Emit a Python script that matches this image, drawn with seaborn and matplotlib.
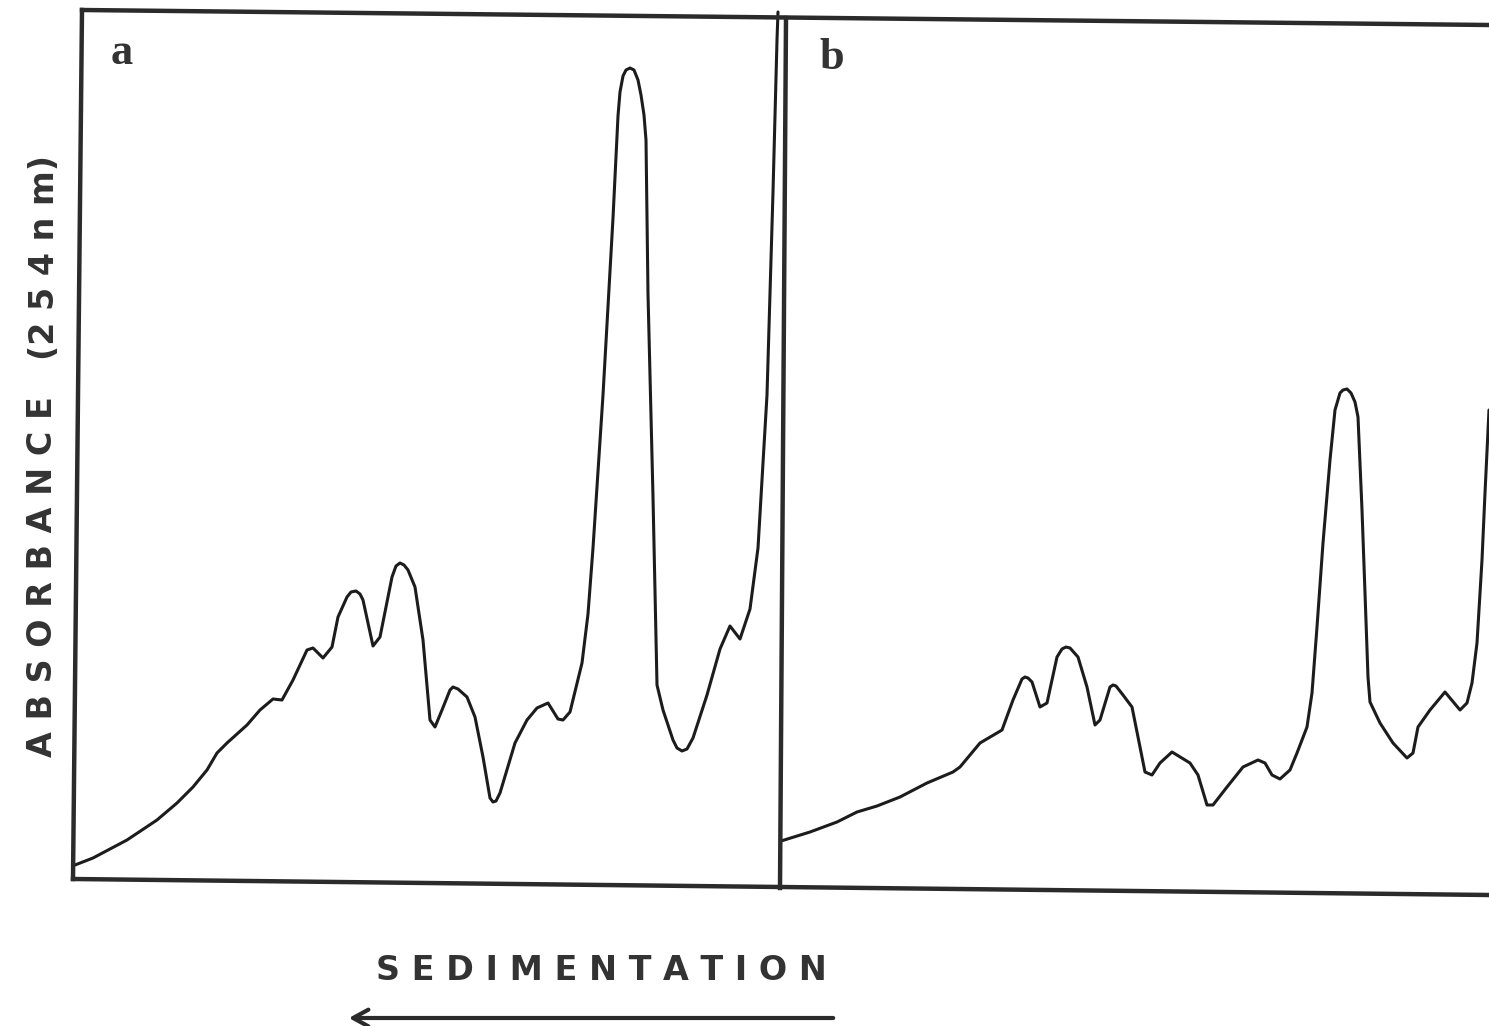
import numpy as np
import pandas as pd
import matplotlib
matplotlib.use("Agg")
import matplotlib.pyplot as plt
from matplotlib.lines import Line2D
from matplotlib.patches import FancyArrowPatch
import seaborn as sns

# Gradient trace, profile a: recorder position (chart units) vs A254 (chart units)
pos_a = [2, 20, 54, 84, 104, 120, 134, 144, 154, 174, 187, 200, 209, 220, 234, 240,
         250, 259, 265, 274, 278, 283, 287, 290, 300, 307, 319, 323, 327, 331, 335,
         342, 350, 357, 362, 369, 377, 380, 385, 394, 402, 410, 417, 420, 423, 427,
         442, 454, 464, 475, 485, 490, 497, 509, 515, 520, 530, 540, 545, 547, 550,
         553, 557, 561, 565, 568, 571, 573, 575, 580, 584, 590, 600, 604, 609, 614,
         620, 634, 647, 657, 667, 677, 685, 694, 700, 704, 705]
abs_a = [17, 24, 42, 62, 79, 95, 112, 129, 139, 157, 172, 183, 182, 202, 232, 234,
         224, 235, 265, 285, 290, 291, 288, 282, 236, 245, 305, 316, 319, 317, 312,
         295, 242, 162, 155, 172, 192, 195, 193, 185, 165, 125, 84, 80, 81, 89,
         139, 162, 174, 179, 163, 162, 170, 219, 268, 334, 487, 664, 766, 790, 806,
         812, 814, 812, 802, 787, 767, 742, 588, 385, 197, 172, 142, 134, 131, 133,
         144, 187, 233, 256, 243, 273, 334, 487, 690, 842, 870]

# Gradient trace, profile b
pos_b = [0, 29, 56, 76, 96, 119, 146, 172, 179, 199, 216, 221, 232, 241, 244, 247,
         251, 259, 266, 276, 281, 285, 289, 297, 306, 314, 319, 329, 332, 335, 342,
         351, 357, 364, 371, 379, 391, 409, 417, 426, 432, 446, 462, 477, 484, 491,
         499, 509, 516, 526, 531, 536, 542, 549, 554, 559, 562, 566, 570, 574, 577,
         581, 584, 587, 589, 599, 612, 626, 632, 637, 649, 664, 679, 686, 691, 696,
         701, 704, 708]
abs_b = [49, 58, 68, 78, 84, 93, 107, 118, 123, 147, 157, 160, 190, 211, 213, 212,
         208, 183, 187, 233, 241, 243, 242, 233, 203, 165, 170, 203, 205, 204, 195,
         183, 153, 118, 115, 127, 138, 127, 115, 85, 85, 103, 123, 130, 127, 115,
         111, 120, 137, 163, 197, 263, 347, 430, 480, 497, 500, 501, 497, 488, 473,
         380, 297, 213, 188, 167, 147, 132, 137, 163, 180, 198, 180, 187, 207, 247,
         330, 397, 480]

panel_labels = ["a", "b"]
y_label = "A B S O R B A N C E"
y_unit = "(2 5 4 n m)"
x_label = "S E D I M E N T A T I O N"

sns.set_theme(style="white")
plt.rcParams["font.family"] = ["DejaVu Sans"]

W, H = 1489, 1026
fig = plt.figure(figsize=(W / 100, H / 100), dpi=100)
fig.patch.set_facecolor("white")

ink = "#1c1c1c"
frame_ink = "#2b2b2b"


def fx(px):
    return px / W


def fy(py):
    return 1 - py / H


# Two recorder panels side by side
ax_a = fig.add_axes([fx(73), fy(882), fx(779) - fx(73), fy(12) - fy(882)])
ax_b = fig.add_axes([fx(781), fy(890), fx(1489) - fx(781), fy(12) - fy(890)])

df_a = pd.DataFrame({"position": pos_a, "absorbance": abs_a})
df_b = pd.DataFrame({"position": pos_b, "absorbance": abs_b})

for ax, df, xmax, ymax in [(ax_a, df_a, 706, 870), (ax_b, df_b, 708, 878)]:
    sns.lineplot(data=df, x="position", y="absorbance", ax=ax, sort=False,
                 estimator=None, color=ink, linewidth=2.2, clip_on=False)
    ax.lines[-1].set_solid_joinstyle("round")
    ax.lines[-1].set_solid_capstyle("round")
    ax.set_xlim(0, xmax)
    ax.set_ylim(0, ymax)
    ax.set_axis_off()
    ax.patch.set_alpha(0)

# Chart frame (slightly skewed as on the recorder sheet)
frame = [
    ((82, 10), (1489, 25)),   # top
    ((82, 10), (73, 879)),    # left
    ((73, 879), (1489, 895)), # bottom
    ((786, 18), (780, 888)),  # divider between a and b
]
for (x0, y0), (x1, y1) in frame:
    fig.add_artist(Line2D([fx(x0), fx(x1)], [fy(y0), fy(y1)],
                          transform=fig.transFigure, color=frame_ink,
                          linewidth=3.2, solid_capstyle="projecting"))

# Panel letters
fig.text(fx(122), fy(53), panel_labels[0], family="Liberation Serif",
         weight="bold", fontsize=32, color="#333333", ha="center", va="center")
fig.text(fx(832), fy(58), panel_labels[1], family="Liberation Serif",
         weight="bold", fontsize=32, color="#333333", ha="center", va="center")

# Axis titles
fig.text(fx(43), fy(577), y_label, rotation=90, fontsize=24, weight="bold",
         color="#333333", ha="center", va="center")
fig.text(fx(45), fy(258), y_unit, rotation=90, fontsize=24, weight="bold",
         color="#333333", ha="center", va="center")
fig.text(fx(601), fy(970), x_label, fontsize=24, weight="bold",
         color="#333333", ha="center", va="center")

# Direction of sedimentation
arrow = FancyArrowPatch((fx(836), fy(1018)), (fx(346), fy(1018)),
                        transform=fig.transFigure,
                        arrowstyle="->,head_length=0.55,head_width=0.3",
                        mutation_scale=20, color=frame_ink, linewidth=3.0)
fig.add_artist(arrow)

fig.savefig("out.png", dpi=100, facecolor="white")
